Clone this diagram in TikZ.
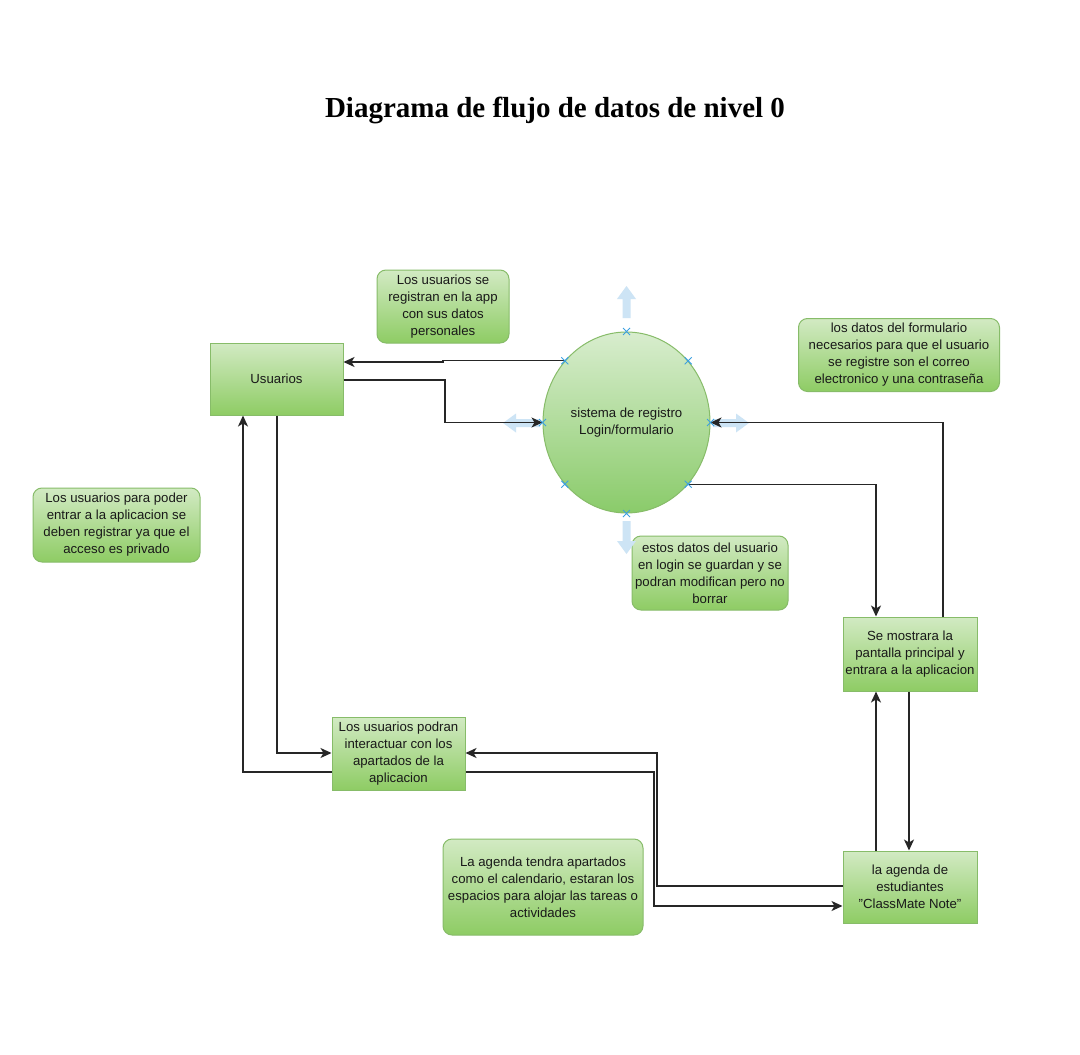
\documentclass[tikz,border=0pt]{standalone}
\usepackage{fontspec}
\setmainfont{Liberation Sans}
\newfontfamily\titlefont{Liberation Serif}
\usetikzlibrary{shapes.geometric,shapes.misc,arrows.meta}
\definecolor{gtop}{RGB}{210,234,195}
\definecolor{gbot}{RGB}{142,204,100}
\definecolor{boxedge}{RGB}{135,188,105}
\definecolor{ctop}{RGB}{216,237,206}
\definecolor{cbot}{RGB}{138,203,106}
\definecolor{hblue}{RGB}{205,228,245}
\definecolor{xblue}{RGB}{60,160,225}
\begin{document}
\begin{tikzpicture}[x=1pt,y=-1pt,
  every node/.style={font=\fontsize{13.2}{17}\selectfont, text=black!90, align=center, inner sep=0pt},
  box/.style={draw=boxedge, line width=1pt, top color=gtop, bottom color=gbot, minimum width=133pt, minimum height=72pt},
  note/.style={box, rounded corners=9pt},
  conn/.style={draw=black!85, line width=1.4pt},
  arr/.style={conn, -{Stealth[length=11pt,width=10pt,inset=3pt]}},
  xmk/.style={cross out, draw=xblue, line width=1pt, minimum size=6pt, inner sep=0pt},
  hint/.style={fill=hblue, draw=none}
]
\fill[white] (0,0) rectangle (1080,1055);
\useasboundingbox (0,0) rectangle (1080,1055);

\node[font=\titlefont\bfseries\fontsize{29}{34}\selectfont, text=black] (title) at (555,110) {Diagrama de flujo de datos de nivel 0};

% nodes
\node[note, minimum width=132pt, minimum height=73pt] (n1) at (443,306.5) {Los usuarios se\\registran en la app\\con sus datos\\personales};
\node[box] (usr) at (276.5,379) {Usuarios};
\node[ellipse, draw=boxedge, line width=1pt, top color=ctop, bottom color=cbot, minimum width=167pt, minimum height=181pt] (circ) at (626.5,422.5) {sistema de registro\\Login/formulario};
\node[note, minimum width=201pt, minimum height=73pt] (n2) at (899,355) {los datos del formulario\\necesarios para que el usuario\\se registre son el correo\\electronico y una contraseña};
\node[note, minimum width=167pt, minimum height=74pt] (n3) at (116.5,525) {Los usuarios para poder\\entrar a la aplicacion se\\deben registrar ya que el\\acceso es privado};
\node[note, minimum width=156pt, minimum height=74pt] (n4) at (710,573) {estos datos del usuario\\en login se guardan y se\\podran modifican pero no\\borrar};
\node[box, minimum width=134pt, minimum height=74pt] (main) at (910,654) {Se mostrara la\\pantalla principal y\\entrara a la aplicacion};
\node[box, minimum height=73pt] (apart) at (398.5,753.5) {Los usuarios podran\\interactuar con los\\apartados de la\\aplicacion};
\node[note, minimum width=200pt, minimum height=96pt] (n5) at (543,887) {La agenda tendra apartados\\como el calendario, estaran los\\espacios para alojar las tareas o\\actividades};
\node[box, minimum width=134pt, minimum height=72pt] (agenda) at (910,887) {la agenda de\\estudiantes\\\symbol{34}ClassMate Note\symbol{34}};

% light blue hint arrows around the circle
\fill[hint] (622.5,318) -- (622.5,299) -- (617,299) -- (626.5,286) -- (636,299) -- (630.5,299) -- (630.5,318) -- cycle;
\fill[hint] (540,419) -- (516,419) -- (516,413.5) -- (503,423) -- (516,432.5) -- (516,427) -- (540,427) -- cycle;
\fill[hint] (713,419) -- (736,419) -- (736,413.5) -- (749,423) -- (736,432.5) -- (736,427) -- (713,427) -- cycle;
\fill[hint] (622.5,521) -- (622.5,541) -- (617,541) -- (626.5,554) -- (636,541) -- (630.5,541) -- (630.5,521) -- cycle;

% connectors
\draw[arr] (circ.135) -- (circ.135 -| 443,0) -- (443,362) -- (usr.east |- 0,362);
\draw[arr] (usr.east |- 0,380) -- (445,380) -- (445,0 |- circ.west) -- (circ.west);
\draw[arr] (main.north -| 943,0) -- (943,0 |- circ.east) -- (circ.east);
\draw[arr] (circ.-45) -- (876,0 |- circ.-45) -- (main.north -| 876,0);
\draw[arr] (usr.south -| 277,0) -- (277,753) -- (apart.west |- 0,753);
\draw[arr] (apart.west |- 0,772) -- (243,772) -- (usr.south -| 243,0);
\draw[arr] (agenda.west |- 0,886) -- (657,886) -- (657,753) -- (apart.east |- 0,753);
\draw[arr] (apart.east |- 0,772) -- (654,772) -- (654,906) -- (agenda.west |- 0,906);
\draw[arr] (agenda.north -| 876,0) -- (main.south -| 876,0);
\draw[arr] (main.south -| 909,0) -- (agenda.north -| 909,0);

% connection markers on the circle
\foreach \a in {0,45,...,315} \node[xmk] at (circ.\a) {};
\end{tikzpicture}
\end{document}
